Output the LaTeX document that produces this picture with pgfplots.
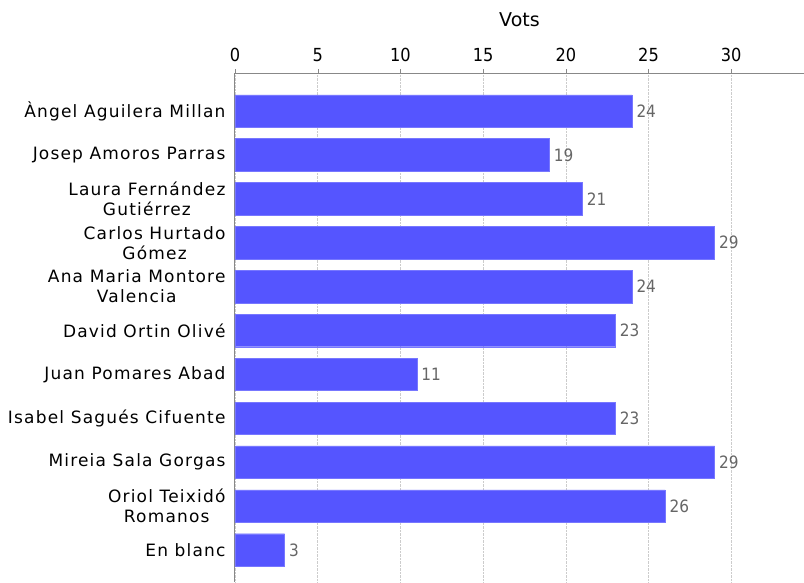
\documentclass[border=0pt]{standalone}
\usepackage{pgfplots}
\pgfplotsset{compat=1.18}
\usepackage{fontspec}
\setmainfont{DejaVu Sans}
\newfontfamily\namefont[LetterSpace=7]{DejaVu Sans}
\newfontfamily\condfont{DejaVu Sans Condensed}
\definecolor{barblue}{HTML}{5555FF}
\definecolor{axisgray}{HTML}{888888}
\definecolor{valgray}{HTML}{666666}
\begin{document}
\begin{tikzpicture}
\begin{axis}[
  at={(0,0)}, anchor=north west,
  scale only axis, width=569pt, height=509pt,
  xmin=0, xmax=34.4,
  ymin=-0.73, ymax=10.866,
  axis x line=top, axis y line=left,
  axis line style={-, draw=axisgray, line width=1pt},
  xtick={0,5,...,30},
  /pgf/number format/assume math mode=true,
  xticklabel style={font=\fontsize{18}{18}\selectfont\condfont, text=black, yshift=4pt},
  tick align=outside,
  major tick length=4pt,
  xtick style={draw=axisgray},
  ytick={0,...,10},
  yticklabels={En blanc,{Oriol Teixidó\\Romanos},Mireia Sala Gorgas,Isabel Sagués Cifuente,Juan Pomares Abad,David Ortin Olivé,{Ana Maria Montore\\Valencia},{Carlos Hurtado\\Gómez},{Laura Fernández\\Gutiérrez},Josep Amoros Parras,Àngel Aguilera Millan},
  yticklabel style={align=center, font=\fontsize{17}{20}\selectfont\namefont, text=black, xshift=-2pt},
  ytick style={draw=none},
  xmajorgrids,
  grid style={densely dotted, draw=gray!40},
  xlabel={Vots},
  xlabel style={font=\fontsize{19}{19}\selectfont, yshift=14pt},
  xbar, bar width=32.5pt,
  nodes near coords,
  every node near coord/.append style={anchor=west, xshift=1pt, font=\fontsize{17}{17}\selectfont\condfont, text=valgray},
]
\addplot[fill=barblue, draw=barblue!80!white] coordinates {
(3,0) (26,1) (29,2) (23,3) (11,4) (23,5) (24,6) (29,7) (21,8) (19,9) (24,10)
};
\end{axis}
\pgfresetboundingbox
\path[use as bounding box] (-235pt,73pt) rectangle (569pt,-509pt);
\end{tikzpicture}
\end{document}
